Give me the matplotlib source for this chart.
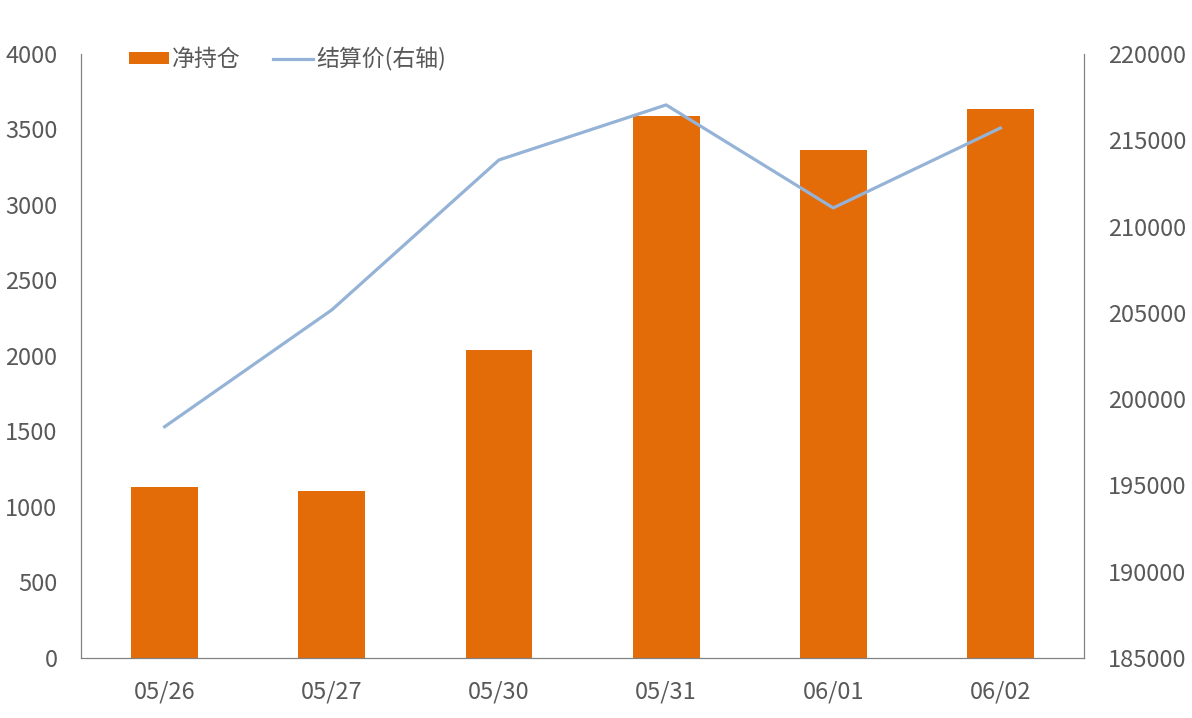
import numpy as np
import matplotlib.pyplot as plt

plt.rcParams['font.family'] = ['Noto Sans CJK SC', 'DejaVu Sans']

dates = ["05/26", "05/27", "05/30", "05/31", "06/01", "06/02"]
net_position = [1132, 1106, 2040, 3590, 3364, 3636]
settle_price = [198400, 205170, 213860, 217050, 211080, 215710]

bar_color = "#E36C09"
line_color = "#95B3D7"
text_color = "#595959"
spine_color = "#808080"

fig = plt.figure(figsize=(11.92, 7.18), dpi=100)
ax = fig.add_axes([0.068, 0.0836, 0.8414, 0.8412])
ax2 = ax.twinx()

x = np.arange(len(dates))
bars = ax.bar(x, net_position, width=0.4, color=bar_color, label="净持仓", zorder=2)
line, = ax2.plot(x, settle_price, color=line_color, lw=2.3, label="结算价(右轴)", zorder=3)

ax.set_xlim(-0.5, len(dates) - 0.5)
ax.set_ylim(0, 4000)
ax.set_yticks(np.arange(0, 4001, 500))
ax2.set_ylim(185000, 220000)
ax2.set_yticks(np.arange(185000, 220001, 5000))

ax.set_xticks(x)
ax.set_xticklabels(dates)

for a in (ax, ax2):
    a.spines['top'].set_visible(False)
    for s in ('left', 'right', 'bottom'):
        a.spines[s].set_color(spine_color)
        a.spines[s].set_linewidth(0.8)
    a.tick_params(length=0, labelsize=17, colors=text_color)
ax.tick_params(axis='y', pad=17)
ax.tick_params(axis='x', pad=16)
ax2.tick_params(axis='y', pad=17)

ax.set_zorder(ax2.get_zorder() - 1)
ax2.patch.set_visible(False)

leg = ax2.legend([bars, line], ["净持仓", "结算价(右轴)"], loc='upper left',
                 bbox_to_anchor=(0.027, 1.045), ncol=2, frameon=False,
                 fontsize=16.5, handlelength=1.75, handleheight=0.45,
                 handletextpad=0.15, columnspacing=1.4, labelcolor=text_color)

fig.savefig("out.png", dpi=100)
